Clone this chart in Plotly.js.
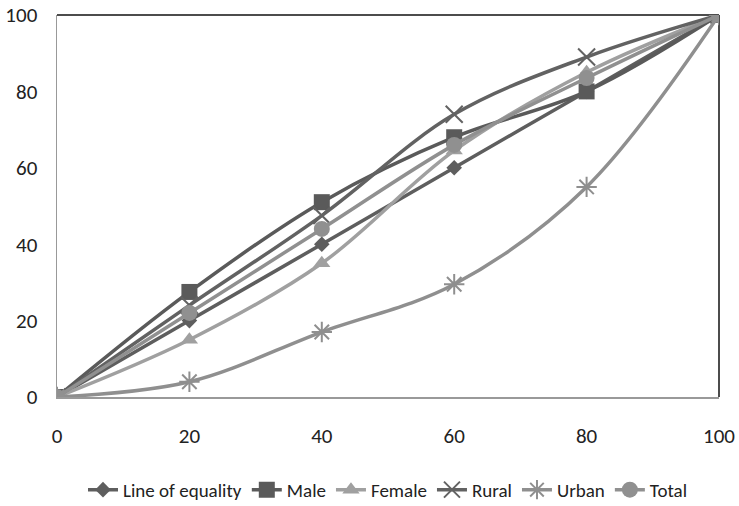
<!DOCTYPE html>
<html><head><meta charset="utf-8">
<script src="https://cdn.plot.ly/plotly-3.0.1.min.js"></script>
<style>html,body{margin:0;padding:0;background:#fff}</style>
</head><body><div id="chart" style="width:739px;height:506px"></div>
<script>
var xVals = [0, 20, 40, 60, 80, 100];
var equality = [0, 20, 40, 60, 80, 100];
var male = [0, 27.5, 51, 68, 80, 100];
var female = [0, 15, 35, 64.5, 85, 100];
var rural = [0, 24, 47.5, 74, 89, 100];
var urban = [0, 4, 17, 29.5, 55, 100];
var total = [0, 22, 44, 66, 83.5, 100];
var names = ["Line of equality", "Male", "Female", "Rural", "Urban", "Total"];

var series = [equality, male, female, rural, urban, total];
var colors = ["#5e5e5e", "#5a5a5a", "#a0a0a0", "#626262", "#8f8f8f", "#909090"];
var symbols = ["diamond", "square", "triangle-up", "x-thin-open", "asterisk-open", "circle"];
var sizes = [12, 16, 15, 17, 17, 16];

var traces = series.map(function(s, i){
  var open = symbols[i].indexOf("open") >= 0;
  return {
    x: xVals, y: s, name: names[i], type: "scatter", mode: "lines+markers",
    line: {color: colors[i], width: 3.5, shape: "spline", smoothing: 1},
    marker: {symbol: symbols[i], size: sizes[i], color: colors[i],
             line: {color: colors[i], width: open ? 2 : 0}}
  };
});

var font = "Carlito, Lato, sans-serif";
var layout = {
  width: 739, height: 506,
  margin: {l: 57, r: 20, t: 15, b: 109, autoexpand: false},
  paper_bgcolor: "#fff", plot_bgcolor: "#fff",
  font: {family: font, color: "#222", size: 21},
  showlegend: true,
  legend: {orientation: "h", x: 0.5, xanchor: "center", yref: "container", y: 0.032, yanchor: "middle",
           font: {size: 19, color: "#222"}, itemwidth: 30, tracegroupgap: 0},
  xaxis: {range: [0, 100], tickvals: xVals, showgrid: false, zeroline: false, automargin: false,
          showline: true, linecolor: "#999", linewidth: 1.5,
          ticks: "", ticklabelstandoff: 19, tickfont: {size: 21}},
  yaxis: {range: [0, 100], dtick: 20, showgrid: false, zeroline: false, automargin: false,
          showline: true, linecolor: "#999", linewidth: 1.5,
          ticks: "", ticklabelstandoff: 14, tickfont: {size: 21}},
  shapes: [
    {type: "line", xref: "paper", yref: "paper", x0: 0, x1: 1, y0: 1, y1: 1, line: {color: "#111", width: 1.5}, layer: "below"},
    {type: "line", xref: "paper", yref: "paper", x0: 1, x1: 1, y0: 0, y1: 1, line: {color: "#111", width: 1.5}, layer: "below"}
  ]
};
Plotly.newPlot("chart", traces, layout, {displayModeBar: false, staticPlot: true});
</script></body></html>
